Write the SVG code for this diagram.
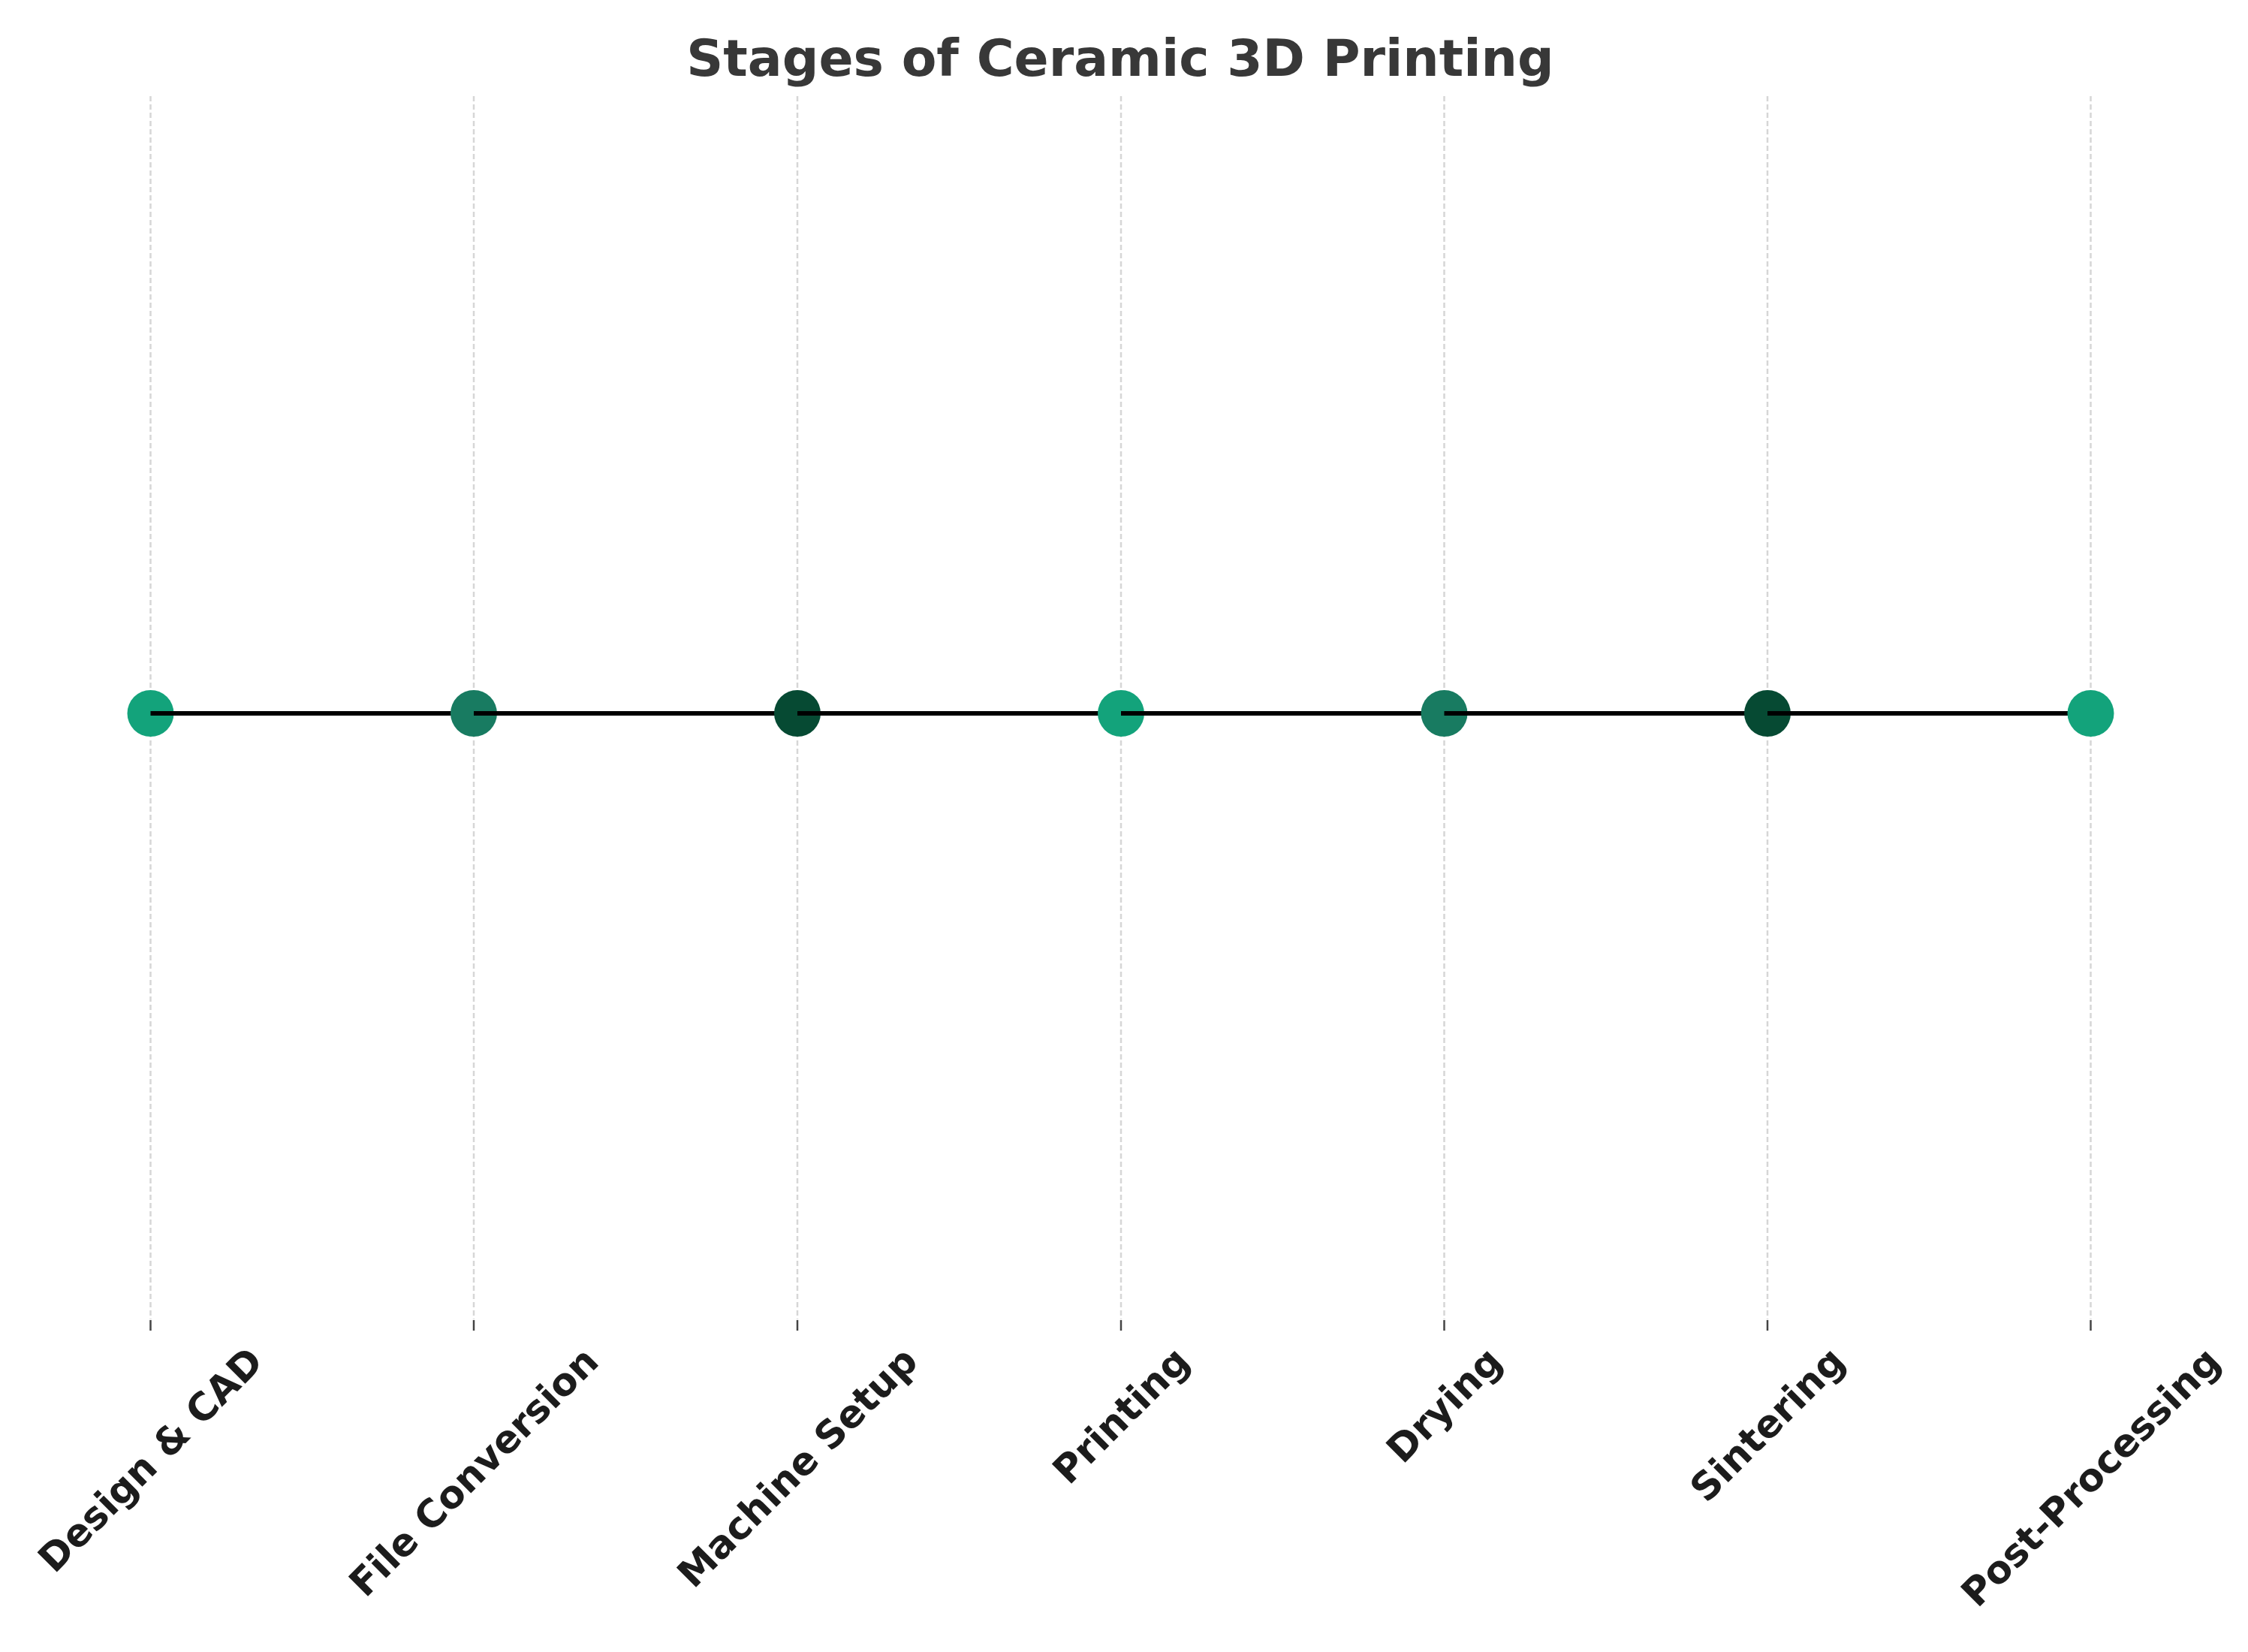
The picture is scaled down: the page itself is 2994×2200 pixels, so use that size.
<svg xmlns="http://www.w3.org/2000/svg" width="2994" height="2200" viewBox="0 0 2994 2200">
<style>
.title{font-family:"DejaVu Sans",sans-serif;font-weight:bold;font-size:68px;fill:#383838;text-anchor:middle}
.lbl{font-family:"DejaVu Sans",sans-serif;font-weight:bold;font-size:51px;fill:#1c1c1c;text-anchor:middle;dominant-baseline:central}
.grid{stroke:#d6d6d6;stroke-width:2.5;stroke-dasharray:7,4;fill:none}
.tick{stroke:#444;stroke-width:2.5}
.seg{stroke:#000;stroke-width:6;fill:none}
.c1{fill:#13a37b}.c2{fill:#187b61}.c3{fill:#064a33}
</style>
<rect width="2994" height="2200" fill="#fff"/>
<text class="title" x="1492" y="101">Stages of Ceramic 3D Printing</text>
<g id="grid">
<line class="grid" x1="200.5" y1="128" x2="200.5" y2="1757"/>
<line class="grid" x1="631" y1="128" x2="631" y2="1757"/>
<line class="grid" x1="1062" y1="128" x2="1062" y2="1757"/>
<line class="grid" x1="1493" y1="128" x2="1493" y2="1757"/>
<line class="grid" x1="1923.5" y1="128" x2="1923.5" y2="1757"/>
<line class="grid" x1="2354" y1="128" x2="2354" y2="1757"/>
<line class="grid" x1="2784.5" y1="128" x2="2784.5" y2="1757"/>
<line class="tick" x1="200.5" y1="1758" x2="200.5" y2="1772"/>
<line class="tick" x1="631" y1="1758" x2="631" y2="1772"/>
<line class="tick" x1="1062" y1="1758" x2="1062" y2="1772"/>
<line class="tick" x1="1493" y1="1758" x2="1493" y2="1772"/>
<line class="tick" x1="1923.5" y1="1758" x2="1923.5" y2="1772"/>
<line class="tick" x1="2354" y1="1758" x2="2354" y2="1772"/>
<line class="tick" x1="2784.5" y1="1758" x2="2784.5" y2="1772"/>
</g>
<g id="n1"><circle class="c1" cx="200.5" cy="950" r="31"/></g>
<g id="connectors1"><line class="seg" x1="200.5" y1="950" x2="631" y2="950"/></g>
<g id="n2"><circle class="c2" cx="631" cy="950" r="31"/></g>
<g id="connectors2"><line class="seg" x1="631" y1="950" x2="1062" y2="950"/></g>
<g id="n3"><circle class="c3" cx="1062" cy="950" r="31"/></g>
<g id="connectors3"><line class="seg" x1="1062" y1="950" x2="1493" y2="950"/></g>
<g id="n4"><circle class="c1" cx="1493" cy="950" r="31"/></g>
<g id="connectors4"><line class="seg" x1="1493" y1="950" x2="1923.5" y2="950"/></g>
<g id="n5"><circle class="c2" cx="1923.5" cy="950" r="31"/></g>
<g id="connectors5"><line class="seg" x1="1923.5" y1="950" x2="2354" y2="950"/></g>
<g id="n6"><circle class="c3" cx="2354" cy="950" r="31"/></g>
<g id="connectors6"><line class="seg" x1="2354" y1="950" x2="2784.5" y2="950"/></g>
<g id="n7"><circle class="c1" cx="2784.5" cy="950" r="31"/></g>
<g id="labels">
<text class="lbl" x="200.5" y="1944" transform="rotate(-45 200.5 1944)">Design &amp; CAD</text>
<text class="lbl" x="631" y="1960" transform="rotate(-45 631 1960)">File Conversion</text>
<text class="lbl" x="1062" y="1954" transform="rotate(-45 1062 1954)">Machine Setup</text>
<text class="lbl" x="1493" y="1885" transform="rotate(-45 1493 1885)">Printing</text>
<text class="lbl" x="1923.5" y="1871" transform="rotate(-45 1923.5 1871)">Drying</text>
<text class="lbl" x="2354" y="1897" transform="rotate(-45 2354 1897)">Sintering</text>
<text class="lbl" x="2784.5" y="1967" transform="rotate(-45 2784.5 1967)">Post-Processing</text>
</g>
</svg>
